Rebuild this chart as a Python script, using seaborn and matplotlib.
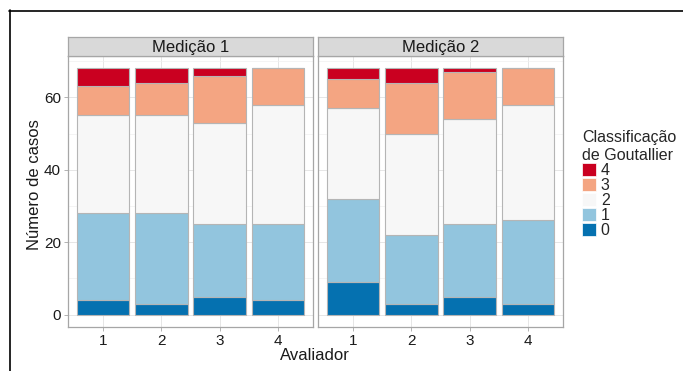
import pandas as pd
import numpy as np
import matplotlib
matplotlib.use('Agg')
import matplotlib.pyplot as plt
from matplotlib.patches import Patch
from matplotlib.lines import Line2D
from matplotlib.ticker import MultipleLocator
import seaborn as sns

# -----------------------------
# dados (contagem de casos por grau)
# -----------------------------
avaliadores = [1, 2, 3, 4]
graus = ['4', '3', '2', '1', '0']
medicoes = ['Medição 1', 'Medição 2']

# Medição 1
m1_g0 = [4, 3, 5, 4]
m1_g1 = [24, 25, 20, 21]
m1_g2 = [27, 27, 28, 33]
m1_g3 = [8, 9, 13, 10]
m1_g4 = [5, 4, 2, 0]

# Medição 2
m2_g0 = [9, 3, 5, 3]
m2_g1 = [23, 19, 20, 23]
m2_g2 = [25, 28, 29, 32]
m2_g3 = [8, 14, 13, 10]
m2_g4 = [3, 4, 1, 0]

cores = {'4': '#CA0020', '3': '#F4A582', '2': '#F7F7F7', '1': '#92C5DE', '0': '#0571B0'}

linhas = []
for med, series in zip(medicoes, [
        {'0': m1_g0, '1': m1_g1, '2': m1_g2, '3': m1_g3, '4': m1_g4},
        {'0': m2_g0, '1': m2_g1, '2': m2_g2, '3': m2_g3, '4': m2_g4}]):
    for g in graus:
        for a, n in zip(avaliadores, series[g]):
            linhas.append({'medicao': med, 'avaliador': a, 'grau': g, 'n': n})
df = pd.DataFrame(linhas)

sns.set_theme(style='white')
plt.rcParams['font.family'] = ['Liberation Sans', 'DejaVu Sans']

W, H = 683, 371
fig = plt.figure(figsize=(W / 100, H / 100), dpi=100)

def fx(px):
    return px / W

def fy(py):
    return 1 - py / H

paineis = [(68, 313), (318, 563)]
topo, base, strip_topo = 56, 327, 37

for i, (med, (x0, x1)) in enumerate(zip(medicoes, paineis)):
    ax = fig.add_axes([fx(x0), fy(base), fx(x1 - x0), (base - topo) / H])
    sub = df[df['medicao'] == med]
    sns.histplot(data=sub, x='avaliador', weights='n', hue='grau', hue_order=graus,
                 multiple='stack', discrete=True, shrink=0.9, palette=cores,
                 edgecolor='#B5B5B5', linewidth=0.8, alpha=1, legend=False, ax=ax)
    ax.set_xlim(0.4, 4.6)
    ax.set_ylim(-3.4, 71.4)
    ax.set_xticks(avaliadores)
    ax.yaxis.set_major_locator(MultipleLocator(20))
    ax.yaxis.set_minor_locator(MultipleLocator(10))
    ax.set_axisbelow(True)
    ax.grid(which='major', color='#E6E6E6', linewidth=0.7)
    ax.grid(which='minor', axis='y', color='#F0F0F0', linewidth=0.5)
    for s in ax.spines.values():
        s.set_color('#A6A6A6')
        s.set_linewidth(0.9)
    ax.tick_params(axis='both', which='major', direction='out', length=3, width=0.6,
                   color='#A6A6A6', labelsize=11, labelcolor='#1A1A1A', pad=2,
                   bottom=True, left=(i == 0))
    ax.tick_params(which='minor', length=0)
    ax.set_xlabel('')
    ax.set_ylabel('')
    if i == 1:
        ax.set_yticklabels([])

    # faixa do título do painel
    sax = fig.add_axes([fx(x0), fy(topo), fx(x1 - x0), (topo - strip_topo) / H])
    sax.set_facecolor('#D9D9D9')
    sax.set_xticks([])
    sax.set_yticks([])
    for s in sax.spines.values():
        s.set_color('#A6A6A6')
        s.set_linewidth(0.9)
    sax.text(0.5, 0.45, med, ha='center', va='center', fontsize=12, color='#1A1A1A',
             transform=sax.transAxes)

fig.text(fx(315), fy(355), 'Avaliador', ha='center', va='center', fontsize=12, color='#1A1A1A')
fig.text(fx(35), fy(185), 'Número de casos', ha='center', va='center', rotation=90,
         fontsize=12, color='#1A1A1A')

# legenda
handles = [Patch(facecolor=cores[g], edgecolor='white', linewidth=0.5) for g in graus]
leg = fig.legend(handles, graus, title='Classificação\nde Goutallier',
                 loc='upper left', bbox_to_anchor=(fx(576), fy(124)), frameon=False,
                 fontsize=11.5, title_fontsize=11.5, handlelength=0.85, handleheight=0.85,
                 handletextpad=0.3, labelspacing=0.0, borderaxespad=0)
leg._legend_box.align = 'left'

# moldura externa
fig.add_artist(Line2D([fx(9), 1], [fy(10.5), fy(10.5)], color='black', linewidth=1.2))
fig.add_artist(Line2D([fx(9.5), fx(9.5)], [fy(10), 0], color='black', linewidth=1.2))

fig.savefig('out.png', dpi=100)
